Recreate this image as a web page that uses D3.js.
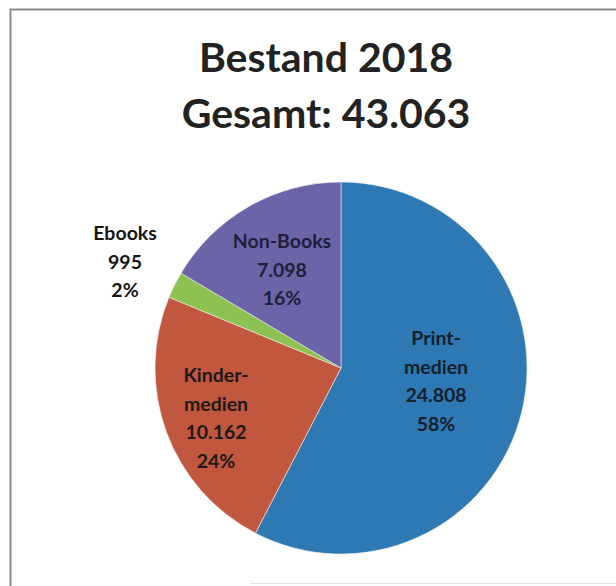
<!DOCTYPE html>
<html>
<head>
<meta charset="utf-8">
<script src="https://cdn.jsdelivr.net/npm/d3@7"></script>
<style>
  html, body { margin: 0; padding: 0; background: #fff; }
  svg { display: block; }
</style>
</head>
<body>
<svg id="chart" width="616" height="586"></svg>
<script>
// Bestand 2018 – Medienbestand nach Kategorie
const categories = ["Printmedien", "Kindermedien", "Ebooks", "Non-Books"];
const values = [24808, 10162, 995, 7098];
const nameLines = [["Print-", "medien"], ["Kinder-", "medien"], ["Ebooks"], ["Non-Books"]];
const titleYear = "Bestand 2018";

// slice colours
const colors = ["#2e79b4", "#c2573f", "#8dc253", "#6c64a8"];

// label anchor offsets from pie centre (x, first baseline)
const labelOffsets = [[95, -23], [-125, 14], [-216, -128], [-59, -120]];
const labelFill = ["#14202c", "#1d1a16", "#151515", "#1c2038"];

const W = 616, H = 586;
const cx = 341, cy = 368, R = 186;
const lineH = 28.5;

const de = d3.formatLocale({ decimal: ",", thousands: ".", grouping: [3], currency: ["", " €"] });
const fmt = de.format(",d");

const total = d3.sum(values);
const svg = d3.select("#chart");

// frame of the chart area
svg.append("path")
  .attr("d", `M10.5,586 L10.5,9.5 L616,9.5`)
  .attr("fill", "none")
  .attr("stroke", "#8a8a8a")
  .attr("stroke-width", 2);
svg.append("line")
  .attr("x1", 250).attr("x2", 616).attr("y1", 583.5).attr("y2", 583.5)
  .attr("stroke", "#e4e4e4").attr("stroke-width", 1);

// title
const title = svg.append("text")
  .attr("x", 326)
  .attr("text-anchor", "middle")
  .attr("font-family", "Lato, 'Open Sans', sans-serif")
  .attr("font-weight", "bold")
  .attr("font-size", 41)
  .attr("fill", "#222");
title.append("tspan").attr("x", 326).attr("y", 72).text(titleYear);
title.append("tspan").attr("x", 326).attr("y", 128).text("Gesamt: " + fmt(total));

// pie
const pie = d3.pie().sort(null).value(d => d.value);
const arc = d3.arc().innerRadius(0).outerRadius(R);
const data = categories.map((c, i) => ({ name: c, value: values[i], i }));
const arcs = pie(data);

const g = svg.append("g").attr("transform", `translate(${cx},${cy})`);
g.selectAll("path.slice")
  .data(arcs)
  .join("path")
  .attr("class", "slice")
  .attr("d", arc)
  .attr("fill", d => colors[d.data.i])
  .attr("stroke", "#f2efe6")
  .attr("stroke-width", 0.6);

// data labels: name, value, percent
const labels = g.selectAll("text.label")
  .data(arcs)
  .join("text")
  .attr("class", "label")
  .attr("text-anchor", "middle")
  .attr("font-family", "Lato, 'Open Sans', sans-serif")
  .attr("font-weight", "bold")
  .attr("font-size", 19.5)
  .attr("fill", d => labelFill[d.data.i]);

labels.each(function (d) {
  const i = d.data.i;
  const [ox, oy] = labelOffsets[i];
  const lines = nameLines[i].concat([fmt(d.data.value), Math.round(d.data.value / total * 100) + "%"]);
  d3.select(this).selectAll("tspan")
    .data(lines)
    .join("tspan")
    .attr("x", ox)
    .attr("y", (t, k) => oy + k * lineH)
    .text(t => t);
});
</script>
</body>
</html>
